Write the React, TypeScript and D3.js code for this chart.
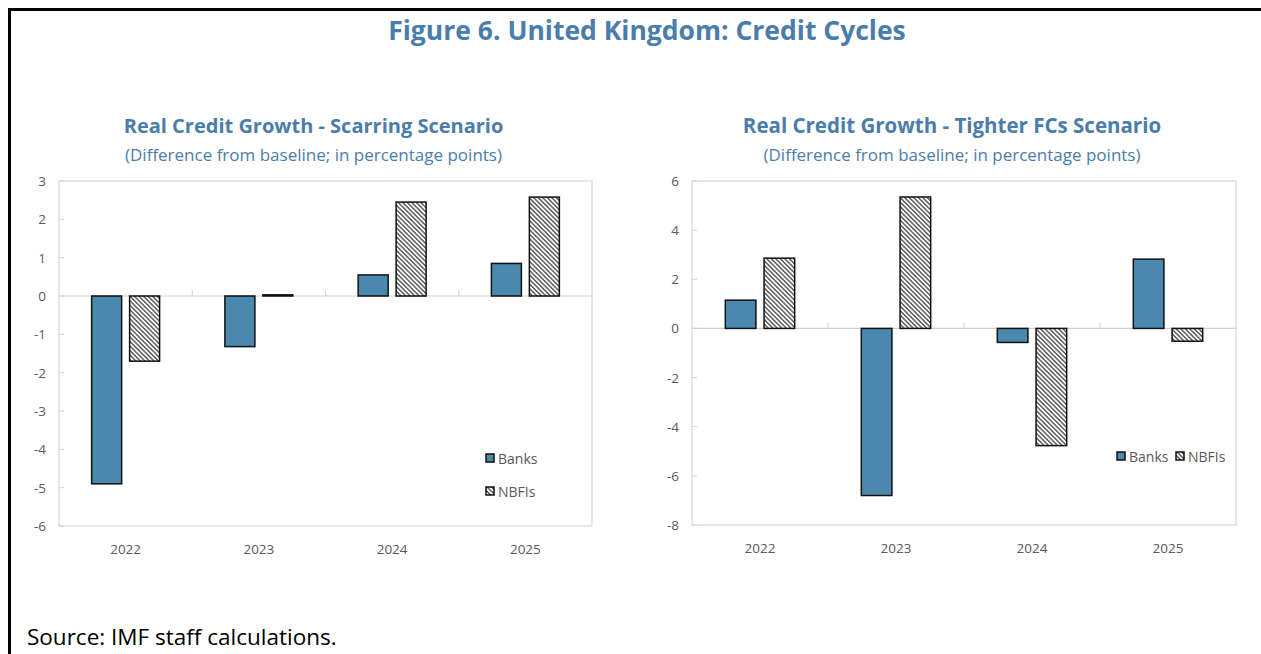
import * as d3 from "d3";

const years = ["2022", "2023", "2024", "2025"];
const seriesNames = ["Banks", "NBFIs"];

// Scarring scenario
const scarBanks = [-4.9, -1.32, 0.55, 0.85];
const scarNbfis = [-1.7, 0.03, 2.45, 2.58];
const scarTicks = [-6, -5, -4, -3, -2, -1, 0, 1, 2, 3];

// Tighter FCs scenario
const fcBanks = [1.15, -6.8, -0.57, 2.82];
const fcNbfis = [2.86, 5.35, -4.77, -0.52];
const fcTicks = [-8, -6, -4, -2, 0, 2, 4, 6];

const BLUE = "#4a89ad";
const TITLE = "#4a7dab";
const FONT = "'Open Sans', 'Noto Sans', sans-serif";

interface PanelProps {
  x0: number;
  x1: number;
  y0: number;
  y1: number;
  banks: number[];
  nbfis: number[];
  ticks: number[];
  title: string;
  titleSize: number;
  legend: "vertical" | "horizontal";
}

function Panel({ x0, x1, y0, y1, banks, nbfis, ticks, title, titleSize, legend }: PanelProps) {
  const x = d3.scaleBand().domain(years).range([x0, x1]);
  const y = d3
    .scaleLinear()
    .domain([d3.min(ticks)!, d3.max(ticks)!])
    .range([y1, y0]);
  const groupW = x.bandwidth() * 0.51;
  const inner = d3.scaleBand().domain(seriesNames).range([0, groupW]).paddingInner(0.21);
  const cx = (x0 + x1) / 2;

  const rows = [
    { name: "Banks", values: banks, fill: BLUE },
    { name: "NBFIs", values: nbfis, fill: "url(#hatch)" },
  ];

  return (
    <g>
      <text x={cx - 12} y={133} textAnchor="middle" fontSize={titleSize} fontWeight={700} fill={TITLE} fontFamily={FONT}>
        {title}
      </text>
      <text x={cx - 12} y={161} textAnchor="middle" fontSize={17} fill={TITLE} fontFamily={FONT}>
        (Difference from baseline; in percentage points)
      </text>
      <rect x={x0} y={y0} width={x1 - x0} height={y1 - y0} fill="none" stroke="#d0d0d0" strokeWidth={1} />
      {ticks.map((t) => (
        <g key={t}>
          <line x1={x0} x2={x0 + 5} y1={y(t)} y2={y(t)} stroke="#d0d0d0" />
          <text x={x0 - 13} y={y(t) + 5} textAnchor="end" fontSize={13.5} fill="#595959" fontFamily={FONT}>
            {t}
          </text>
        </g>
      ))}
      <line x1={x0} x2={x1} y1={y(0)} y2={y(0)} stroke="#d0d0d0" strokeWidth={1.2} />
      {years.slice(1).map((yr) => (
        <line key={yr} x1={x(yr)!} x2={x(yr)!} y1={y(0) - 6} y2={y(0)} stroke="#d0d0d0" />
      ))}
      {years.map((yr) => (
        <text
          key={yr}
          x={x(yr)! + x.bandwidth() / 2}
          y={y1 + 28}
          textAnchor="middle"
          fontSize={13.5}
          fill="#595959"
          fontFamily={FONT}
        >
          {yr}
        </text>
      ))}
      {rows.map((r) =>
        r.values.map((v, i) => {
          const bx = x(years[i])! + (x.bandwidth() - groupW) / 2 + inner(r.name)!;
          return (
            <rect
              key={r.name + i}
              x={bx}
              y={Math.min(y(v), y(0))}
              width={inner.bandwidth()}
              height={Math.abs(y(v) - y(0))}
              fill={r.fill}
              stroke="#111"
              strokeWidth={1.5}
            />
          );
        })
      )}
      {legend === "vertical"
        ? rows.map((r, i) => (
            <g key={r.name} transform={`translate(486, ${454 + i * 33})`}>
              <rect x={0} y={0} width={8} height={8} fill={r.fill} stroke="#111" strokeWidth={1.5} />
              <text x={12} y={9.5} fontSize={14} fill="#595959" fontFamily={FONT}>
                {r.name}
              </text>
            </g>
          ))
        : rows.map((r, i) => (
            <g key={r.name} transform={`translate(${1117 + i * 59}, 452)`}>
              <rect x={0} y={0} width={8} height={8} fill={r.fill} stroke="#111" strokeWidth={1.5} />
              <text x={12} y={9.5} fontSize={14} fill="#595959" fontFamily={FONT}>
                {r.name}
              </text>
            </g>
          ))}
    </g>
  );
}

export default function App() {
  return (
    <svg
      width={1261}
      height={654}
      style={{ position: "absolute", left: 0, top: 0, background: "#fff" }}
    >
      <defs>
        <pattern id="hatch" width={3.2} height={3.2} patternUnits="userSpaceOnUse" patternTransform="rotate(-45)">
          <rect width={3.2} height={3.2} fill="#fff" />
          <line x1={0.8} x2={0.8} y1={0} y2={3.2} stroke="#222" strokeWidth={1.1} />
        </pattern>
      </defs>
      <line x1={8} x2={1261} y1={9.5} y2={9.5} stroke="#000" strokeWidth={3} />
      <line x1={9.5} x2={9.5} y1={8} y2={654} stroke="#000" strokeWidth={3} />
      <text x={647} y={40} textAnchor="middle" fontSize={26.5} fontWeight={700} fill={TITLE} fontFamily={FONT}>
        Figure 6. United Kingdom: Credit Cycles
      </text>
      <Panel
        x0={59}
        x1={592}
        y0={181}
        y1={526}
        banks={scarBanks}
        nbfis={scarNbfis}
        ticks={scarTicks}
        title="Real Credit Growth - Scarring Scenario"
        titleSize={20}
        legend="vertical"
      />
      <Panel
        x0={692}
        x1={1236}
        y0={181}
        y1={525}
        banks={fcBanks}
        nbfis={fcNbfis}
        ticks={fcTicks}
        title="Real Credit Growth - Tighter FCs Scenario"
        titleSize={20.5}
        legend="horizontal"
      />
      <text x={27} y={645} fontSize={22.5} fill="#000" fontFamily={FONT}>
        Source: IMF staff calculations.
      </text>
    </svg>
  );
}
